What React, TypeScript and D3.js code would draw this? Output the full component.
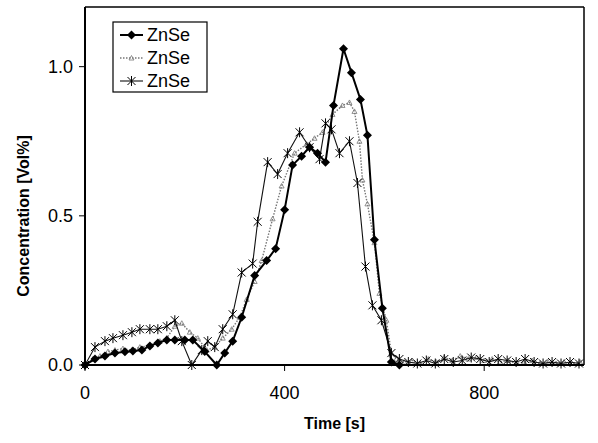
import React from "react";
import * as d3 from "d3";

// Sample times [s] and concentrations [Vol%] for the three ZnSe runs
const timesA = [0, 20, 40, 60, 80, 96, 114, 130, 146, 164, 180, 200, 216, 240, 264, 280, 296, 314, 340, 364, 382, 400, 416, 434, 450, 466, 482, 498, 518, 534, 552, 566, 580, 596, 614, 630];
const valuesA = [0, 0.02, 0.03, 0.04, 0.044, 0.047, 0.05, 0.064, 0.074, 0.084, 0.084, 0.084, 0.084, 0.045, 0, 0.04, 0.08, 0.16, 0.3, 0.35, 0.39, 0.52, 0.67, 0.7, 0.73, 0.71, 0.68, 0.87, 1.06, 0.98, 0.89, 0.77, 0.42, 0.19, 0.01, 0];

const timesB = [0, 16, 30, 46, 60, 76, 94, 110, 130, 150, 164, 180, 194, 210, 226, 244, 260, 276, 294, 310, 324, 340, 354, 376, 394, 420, 444, 460, 476, 496, 516, 530, 540, 550, 556, 566, 580, 590, 604, 614, 624, 640, 656, 672, 688, 704, 720, 736, 752, 768, 784, 800, 816, 832, 848, 864, 880, 896, 912, 928, 944, 960, 976, 992];
const valuesB = [0, 0.02, 0.03, 0.045, 0.05, 0.055, 0.05, 0.06, 0.065, 0.08, 0.09, 0.13, 0.14, 0.11, 0.09, 0.05, 0.06, 0.09, 0.12, 0.16, 0.22, 0.28, 0.35, 0.49, 0.6, 0.71, 0.74, 0.76, 0.78, 0.84, 0.87, 0.88, 0.85, 0.75, 0.62, 0.54, 0.41, 0.24, 0.15, 0.04, 0.02, 0.01, 0.015, 0.005, 0.02, 0.01, 0.025, 0.015, 0.03, 0.02, 0.025, 0.015, 0.02, 0.01, 0.015, 0.005, 0.01, 0.015, 0.005, 0.01, 0.005, 0.01, 0.005, 0.01];

const timesC = [0, 20, 40, 56, 76, 94, 110, 130, 146, 164, 180, 194, 214, 234, 246, 260, 276, 296, 314, 336, 346, 366, 386, 406, 430, 450, 470, 482, 494, 510, 530, 546, 562, 576, 594, 614, 630, 648, 666, 684, 702, 720, 738, 756, 774, 792, 810, 828, 846, 864, 882, 900, 918, 936, 954, 972, 990];
const valuesC = [0, 0.06, 0.08, 0.09, 0.1, 0.11, 0.12, 0.12, 0.12, 0.13, 0.15, 0.08, 0, 0.05, 0.08, 0.06, 0.12, 0.17, 0.31, 0.34, 0.48, 0.68, 0.64, 0.71, 0.78, 0.73, 0.69, 0.81, 0.79, 0.71, 0.75, 0.61, 0.33, 0.2, 0.15, 0.04, 0.02, 0.01, 0.005, 0.015, 0.005, 0.02, 0.01, 0.015, 0.025, 0.02, 0.01, 0.02, 0.015, 0.01, 0.02, 0.01, 0.005, 0.01, 0.005, 0.01, 0.005];

const seriesNames = ["ZnSe", "ZnSe", "ZnSe"];
const xTicks = [0, 400, 800];
const yTicks = [0, 0.5, 1.0];

const W = 598;
const H = 443;
const left = 85;
const right = 584;
const top = 7;
const bottom = 365;

const font = "Arial, 'Liberation Sans', sans-serif";

function zip(t: number[], v: number[]) {
  return t.map((d, i) => ({ t: d, c: v[i] }));
}

function Diamond({ x, y, r = 4.5 }: { x: number; y: number; r?: number }) {
  return <path d={`M${x},${y - r}L${x + r},${y}L${x},${y + r}L${x - r},${y}Z`} fill="#000" />;
}

function Star({ x, y, r = 4 }: { x: number; y: number; r?: number }) {
  return (
    <path
      d={`M${x - r},${y - r}L${x + r},${y + r}M${x - r},${y + r}L${x + r},${y - r}M${x},${y - r - 1}L${x},${y + r + 1}`}
      stroke="#000"
      strokeWidth={1}
      fill="none"
    />
  );
}

function Tri({ x, y, r = 2.5 }: { x: number; y: number; r?: number }) {
  return (
    <path
      d={`M${x},${y - r}L${x + r},${y + r * 0.8}L${x - r},${y + r * 0.8}Z`}
      stroke="#777"
      strokeWidth={0.8}
      fill="none"
    />
  );
}

export default function App() {
  const x = d3.scaleLinear().domain([0, 1000]).range([left, right]);
  const y = d3.scaleLinear().domain([0, 1.2]).range([bottom, top]);
  const line = d3
    .line<{ t: number; c: number }>()
    .x((d) => x(d.t))
    .y((d) => y(d.c));

  const a = zip(timesA, valuesA);
  const b = zip(timesB, valuesB);
  const c = zip(timesC, valuesC);

  const legendY = [35, 58, 81];

  return (
    <svg
      width={W}
      height={H}
      style={{ position: "absolute", left: 0, top: 0, background: "#fff" }}
      fontFamily={font}
    >
      <rect x={0} y={0} width={W} height={H} fill="#fff" />

      {/* dotted grey run */}
      <path d={line(b) || ""} fill="none" stroke="#777" strokeWidth={1.4} strokeDasharray="1.5,1.5" />
      {b.map((d, i) => (
        <Tri key={"b" + i} x={x(d.t)} y={y(d.c)} />
      ))}

      {/* thin run with star markers */}
      <path d={line(c) || ""} fill="none" stroke="#111" strokeWidth={1.1} />
      {c.map((d, i) => (
        <Star key={"c" + i} x={x(d.t)} y={y(d.c)} />
      ))}

      {/* bold run with diamond markers */}
      <path d={line(a) || ""} fill="none" stroke="#000" strokeWidth={2} />
      {a.map((d, i) => (
        <Diamond key={"a" + i} x={x(d.t)} y={y(d.c)} />
      ))}

      {/* frame */}
      <line x1={left} x2={right} y1={top} y2={top} stroke="#000" strokeWidth={1.5} />
      <line x1={right} x2={right} y1={top} y2={bottom} stroke="#000" strokeWidth={1.5} />
      <line x1={left} x2={left} y1={top} y2={bottom + 1} stroke="#000" strokeWidth={2} />
      <line x1={left - 1} x2={right} y1={bottom} y2={bottom} stroke="#000" strokeWidth={2.2} />

      {/* x axis */}
      {xTicks.map((t) => (
        <g key={"xt" + t}>
          <line x1={x(t)} x2={x(t)} y1={bottom} y2={bottom + 6} stroke="#000" strokeWidth={1} />
          <text x={x(t)} y={bottom + 34} textAnchor="middle" fontSize={18} fill="#000">
            {t}
          </text>
        </g>
      ))}
      <text x={(left + right) / 2} y={429} textAnchor="middle" fontSize={16} fontWeight="bold" fill="#000">
        Time [s]
      </text>

      {/* y axis */}
      {yTicks.map((v) => (
        <g key={"yt" + v}>
          <line x1={left - 6} x2={left} y1={y(v)} y2={y(v)} stroke="#000" strokeWidth={1} />
          <text x={left - 12} y={y(v) + 6} textAnchor="end" fontSize={18} fill="#000">
            {d3.format(".1f")(v)}
          </text>
        </g>
      ))}
      <text
        transform={`translate(29,${(top + bottom) / 2 + 30}) rotate(-90)`}
        textAnchor="middle"
        fontSize={16}
        fontWeight="bold"
        fill="#000"
      >
        Concentration [Vol%]
      </text>

      {/* legend */}
      <rect x={113} y={22} width={94} height={70} fill="#fff" stroke="#000" strokeWidth={1.2} />
      <line x1={120} x2={143} y1={legendY[0]} y2={legendY[0]} stroke="#000" strokeWidth={2} />
      <Diamond x={131.5} y={legendY[0]} />
      <line x1={120} x2={143} y1={legendY[1]} y2={legendY[1]} stroke="#777" strokeWidth={1.4} strokeDasharray="1.5,1.5" />
      <Tri x={131.5} y={legendY[1]} />
      <line x1={120} x2={143} y1={legendY[2]} y2={legendY[2]} stroke="#111" strokeWidth={1.1} />
      <Star x={131.5} y={legendY[2]} />
      {seriesNames.map((n, i) => (
        <text key={"lg" + i} x={147} y={legendY[i] + 6} fontSize={18} fill="#000">
          {n}
        </text>
      ))}
    </svg>
  );
}
